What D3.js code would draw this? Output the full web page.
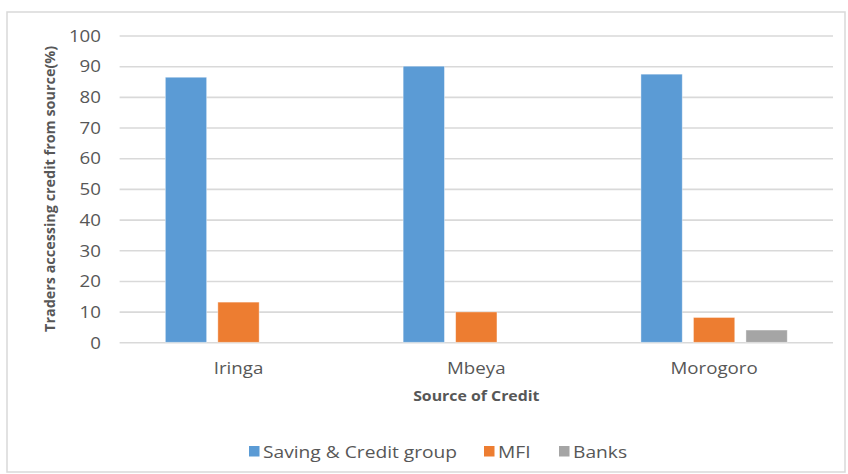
<!DOCTYPE html>
<html><head><meta charset="utf-8">
<script src="https://cdn.jsdelivr.net/npm/d3@7"></script>
<style>body{margin:0;background:#fff}svg{display:block}text{font-family:"Open Sans",sans-serif;fill:#575757}</style>
</head><body><svg id="c" width="848" height="474"></svg>
<script>
const categories = ["Iringa", "Mbeya", "Morogoro"];
const seriesNames = ["Saving & Credit group", "MFI", "Banks"];
const savingCredit = [86.4, 90.0, 87.4];
const mfi = [13.1, 9.9, 8.1];
const banks = [0, 0, 4.0];
const yTicks = [0, 10, 20, 30, 40, 50, 60, 70, 80, 90, 100];
const colors = ["#5b9bd5", "#ed7d31", "#a5a5a5"];
const seriesValues = [savingCredit, mfi, banks];

(function () {
const SX = 1.17;
const svg = d3.select("#c");
svg.append("rect").attr("x", 7).attr("y", 12).attr("width", 838).attr("height", 460)
  .attr("fill", "#fff").attr("stroke", "#d9d9d9").attr("stroke-width", 1.5);

const pLeft = 119.6, pRight = 833, pTop = 35.5, pBottom = 342.3;
const x0 = d3.scaleBand().domain(categories).range([pLeft, pRight]).paddingInner(0).paddingOuter(0);
const x1 = d3.scaleBand().domain(seriesNames).range([0, x0.bandwidth()]).paddingInner(0.213).paddingOuter(0.871);
const y = d3.scaleLinear().domain([0, 100]).range([pBottom, pTop]);

const yAxis = svg.append("g").attr("transform", `translate(${pLeft},0)`)
  .call(d3.axisLeft(y).tickValues(yTicks).tickSize(-(pRight - pLeft)).tickFormat(d3.format("d")));
yAxis.select(".domain").remove();
yAxis.selectAll(".tick line").attr("stroke", "#d9d9d9").attr("stroke-width", 1.6);
yAxis.selectAll(".tick text").attr("x", -18.6 / SX).attr("dy", "0.36em")
  .attr("transform", `scale(${SX},1)`).style("font-size", "16px").attr("fill", "#575757")
  .style("font-family", '"Open Sans",sans-serif');

const groups = svg.append("g").selectAll("g").data(categories).join("g")
  .attr("transform", d => `translate(${x0(d)},0)`);
groups.selectAll("rect").data((d, i) => seriesNames.map((s, j) => ({s, j, v: seriesValues[j][i]})))
  .join("rect")
  .attr("x", d => x1(d.s)).attr("width", x1.bandwidth())
  .attr("y", d => y(d.v)).attr("height", d => y(0) - y(d.v))
  .attr("fill", d => colors[d.j]).attr("stroke", "rgba(255,255,255,0.5)").attr("stroke-width", d => d.v > 0 ? 0.8 : 0);

function stext(x, yy, str, opts = {}) {
  return svg.append("text").attr("transform", `translate(${x},${yy}) scale(${opts.sx || SX},1)`)
    .attr("text-anchor", opts.anchor || "middle").style("font-size", (opts.size || 16) + "px")
    .style("font-weight", opts.weight || "normal").text(str);
}
categories.forEach(c => stext(x0(c) + x0.bandwidth() / 2, 373.5, c));
stext((pLeft + pRight) / 2, 401, "Source of Credit", {size: 13.8, weight: "bold", sx: 1.15});

svg.append("text").attr("transform", `translate(55,${(pTop + pBottom) / 2}) rotate(-90)`)
  .attr("text-anchor", "middle").style("font-size", "13.5px").style("font-weight", "bold")
  .attr("textLength", 286).attr("lengthAdjust", "spacingAndGlyphs")
  .text("Traders accessing credit from source(%)");

const legendX = [249, 484, 559];
seriesNames.forEach((s, j) => {
  svg.append("rect").attr("x", legendX[j]).attr("y", 446).attr("width", 10.5).attr("height", 10.5).attr("fill", colors[j]);
  stext(legendX[j] + 14, 457.5, s, {anchor: "start", sx: 1.2});
});
})();
</script></body></html>
